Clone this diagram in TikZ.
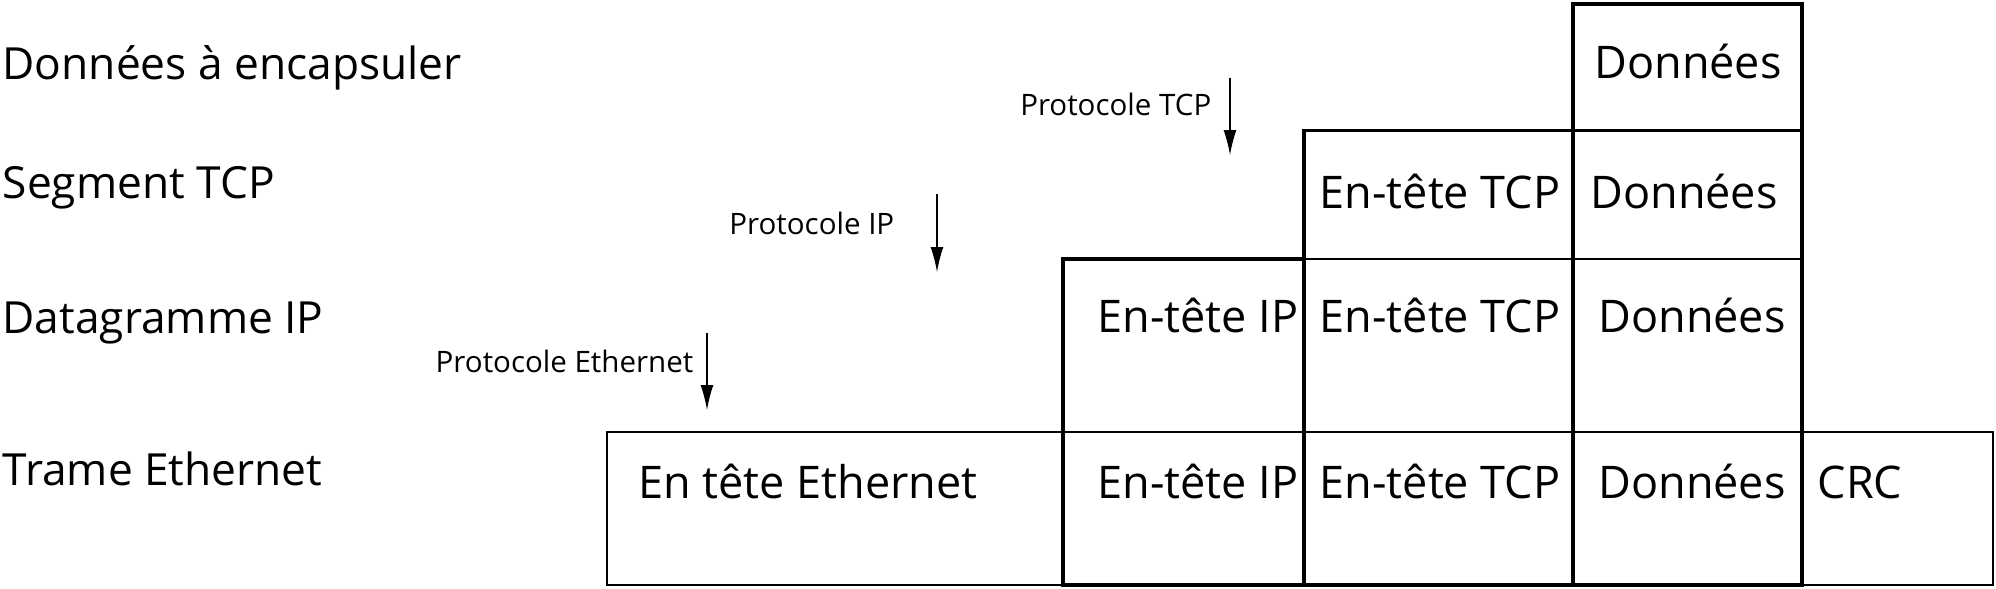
\documentclass[tikz,border=0pt]{standalone}
\usepackage{fontspec}
\setmainfont{Open Sans}
\usetikzlibrary{arrows.meta}
\begin{document}
\begin{tikzpicture}[
    txt/.style={inner sep=0pt,anchor=base,font=\fontsize{12.8}{15}\selectfont},
    lbl/.style={inner sep=0pt,anchor=base west,font=\fontsize{12.6}{15}\selectfont},
    proto/.style={inner sep=0pt,anchor=base east,font=\fontsize{8.4}{10}\selectfont},
    fleche/.style={-{Latex[length=2.5mm,width=1.3mm]},line width=0.4pt},
    epais/.style={line width=1pt},
    moyen/.style={line width=0.6pt},
    fin/.style={line width=0.4pt}]
      \useasboundingbox (0,0) rectangle (19.96,5.88);

      \draw[fin] (6.07,0.03) rectangle (19.93,1.56);
      \draw[moyen] (10.63,1.56) -- (18.02,1.56);
      \draw[moyen] (13.04,3.29) -- (18.02,3.29);
      \draw[moyen] (15.73,4.575) -- (18.02,4.575);
      \draw[epais] (10.63,0.03) -- (10.63,3.29) -- (13.04,3.29) -- (13.04,4.575) -- (15.73,4.575)
          -- (15.73,5.84) -- (18.02,5.84) -- (18.02,0.03) -- cycle;
      \draw[epais] (13.04,0.03) -- (13.04,3.29);
      \draw[epais] (15.73,0.03) -- (15.73,4.575);

      \node[lbl] (donnees) at (0.02,5.09) {Données à encapsuler};
      \node[lbl] (segment) at (0.02,3.90) {Segment TCP};
      \node[lbl] (datagramme) at (0.02,2.55) {Datagramme IP};
      \node[lbl] (trame) at (0.02,1.03) {Trame Ethernet};

      \foreach \x/\y [count=\i] in {16.88/5.10,16.84/3.80,16.92/2.56,16.92/0.90}{
          \node[txt] (data\i) at (\x,\y) {Données};
      }
      \foreach \y [count=\i] in {3.80,2.56,0.90}{
          \node[txt] (tcp\i) at (14.40,\y) {En-tête TCP};
      }
      \foreach \y [count=\i] in {2.56,0.90}{
          \node[txt] (ip\i) at (11.98,\y) {En-tête IP};
      }
      \node[txt] (eth) at (8.08,0.90) {En tête Ethernet};
      \node[txt] (crc) at (18.60,0.90) {CRC};

      \node[proto] (ptcp) at (12.12,4.73) {Protocole TCP};
      \node[proto] (pip) at (8.95,3.54) {Protocole IP};
      \node[proto] (peth) at (6.94,2.16) {Protocole Ethernet};

      \coordinate (tcpHaut) at (12.30,5.10);
      \coordinate (tcpBas) at (12.30,4.33);
      \coordinate (ipHaut) at (9.37,3.94);
      \coordinate (ipBas) at (9.37,3.16);
      \coordinate (ethHaut) at (7.07,2.55);
      \coordinate (ethBas) at (7.07,1.78);
      \draw[fleche] (tcpHaut) -- (tcpBas);
      \draw[fleche] (ipHaut) -- (ipBas);
      \draw[fleche] (ethHaut) -- (ethBas);
\end{tikzpicture}
\end{document}
